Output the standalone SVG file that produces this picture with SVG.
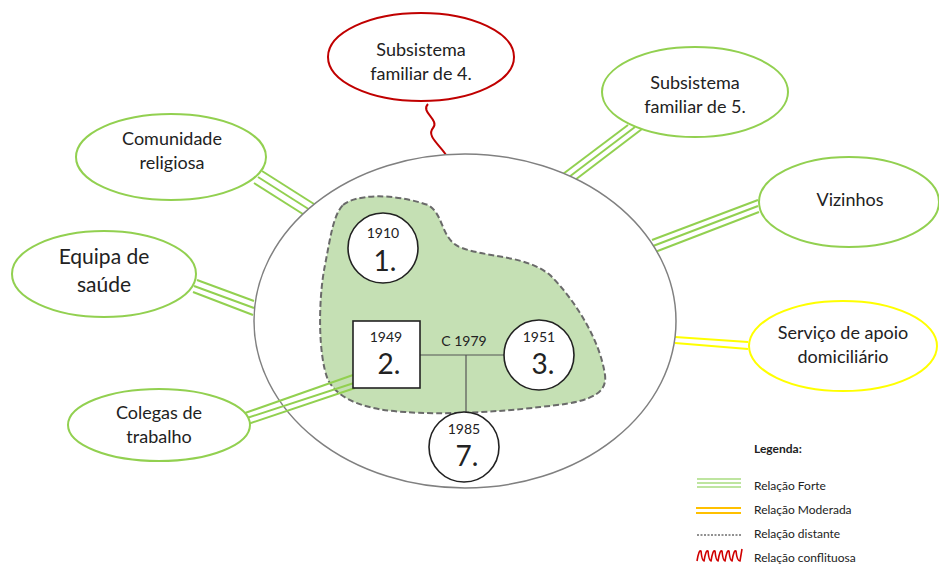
<svg xmlns="http://www.w3.org/2000/svg" width="939" height="565" viewBox="0 0 939 565">
<style>
text{font-family:Lato,"Open Sans",sans-serif;fill:#222;text-anchor:middle}
.lbl{font-size:18px}
.g{stroke:#92D050;stroke-width:2;fill:none}
.y{stroke:#FFFF00;stroke-width:2.2;fill:none}
.node{fill:#fff;stroke:#92D050;stroke-width:2}
.p{fill:#fff;stroke:#222;stroke-width:1.6}
.yr{font-size:14px}
.num{font-size:28px}
.leg{font-size:12px;text-anchor:start}
</style>
<rect width="939" height="565" fill="#fff"/>
<g id="connectors">
<path d="M428,104 C420,112 440,120 433,128 C426,136 440,145 446,155" stroke="#C00000" stroke-width="2" fill="none"/>
<line class="g" x1="628" y1="125" x2="563" y2="174"/>
<line class="g" x1="635" y1="127" x2="569" y2="177"/>
<line class="g" x1="642" y1="129" x2="575" y2="180"/>
<line class="g" x1="758" y1="200" x2="652" y2="240"/>
<line class="g" x1="758" y1="206" x2="653" y2="246"/>
<line class="g" x1="759" y1="212" x2="655" y2="252"/>
<line class="y" x1="675" y1="337" x2="748" y2="342"/>
<line class="y" x1="675" y1="343" x2="748" y2="349"/>
<line class="g" x1="262" y1="171" x2="314" y2="204"/>
<line class="g" x1="258" y1="177" x2="310" y2="210"/>
<line class="g" x1="254" y1="183" x2="306" y2="216"/>
<line class="g" x1="197" y1="280" x2="254" y2="301"/>
<line class="g" x1="194" y1="286" x2="254" y2="308"/>
<line class="g" x1="193" y1="292" x2="253" y2="315"/>
</g>
<g id="household">
<ellipse cx="465" cy="321" rx="211" ry="167" fill="#fff" stroke="#808080" stroke-width="1.5"/>
<path d="M343,205 C355,195 390,192 428,205 C445,215 440,240 462,248 C490,258 525,255 550,275 C575,300 600,340 605,375 C608,398 580,403 540,407 C500,412 440,415 405,412 C370,410 340,402 328,380 C318,355 318,300 325,265 C330,240 333,215 343,205 Z" fill="#C5E0B4" stroke="#6a6a6a" stroke-width="2" stroke-dasharray="6,3"/>
</g>
<g id="connectors-inner">
<line x1="420" y1="355" x2="504" y2="355" stroke="#555" stroke-width="1.2"/>
<line x1="466" y1="355" x2="466" y2="412" stroke="#555" stroke-width="1.2"/>
<line class="g" x1="245" y1="413" x2="353" y2="375"/>
<line class="g" x1="247" y1="418" x2="357" y2="382"/>
<line class="g" x1="248" y1="424" x2="355" y2="388"/>
</g>
<g id="p1"><circle class="p" cx="383" cy="248" r="35"/><text class="yr" x="383" y="238">1910</text><text class="num" x="385" y="271">1.</text></g>
<g id="p2"><rect class="p" x="353" y="321" width="67" height="67"/><text class="yr" x="386" y="342">1949</text><text class="num" x="389" y="374">2.</text></g>
<g id="p3"><circle class="p" cx="539" cy="355" r="35"/><text class="yr" x="539" y="342">1951</text><text class="num" x="543" y="374">3.</text></g>
<g id="p7"><circle class="p" cx="464" cy="447" r="35"/><text class="yr" x="464" y="434">1985</text><text class="num" x="467" y="466">7.</text></g>
<text class="yr" x="464" y="346">C 1979</text>
<g id="n4"><ellipse cx="421" cy="57" rx="93" ry="44" fill="#fff" stroke="#C00000" stroke-width="2"/><text class="lbl" x="421" y="56">Subsistema</text><text class="lbl" x="421" y="80">familiar de 4.</text></g>
<g id="n5"><ellipse class="node" cx="695" cy="92" rx="93" ry="45"/><text class="lbl" x="695" y="89">Subsistema</text><text class="lbl" x="695" y="113">familiar de 5.</text></g>
<g id="viz"><ellipse class="node" cx="849" cy="202" rx="90" ry="45"/><text class="lbl" x="850" y="206">Vizinhos</text></g>
<g id="sad"><ellipse cx="843" cy="346" rx="94" ry="45" fill="#fff" stroke="#FFFF00" stroke-width="2"/><text class="lbl" x="843" y="339">Serviço de apoio</text><text class="lbl" x="843" y="363">domiciliário</text></g>
<g id="com"><ellipse class="node" cx="171" cy="157" rx="95" ry="43"/><text class="lbl" x="172" y="145">Comunidade</text><text class="lbl" x="172" y="169">religiosa</text></g>
<g id="eq"><ellipse class="node" cx="104" cy="274" rx="92" ry="43"/><text x="104" y="264" font-size="21">Equipa de</text><text x="104" y="292" font-size="21">saúde</text></g>
<g id="col"><ellipse class="node" cx="159" cy="425" rx="91" ry="36"/><text class="lbl" x="159" y="419">Colegas de</text><text class="lbl" x="159" y="443">trabalho</text></g>
<g id="legend">
<text class="leg" x="754" y="453" font-weight="bold">Legenda:</text>
<g stroke="#A9DC80" stroke-width="1.3"><line x1="697" y1="479" x2="741" y2="479"/><line x1="697" y1="483" x2="741" y2="483"/><line x1="697" y1="487" x2="741" y2="487"/></g>
<text class="leg" x="754" y="490">Relação Forte</text>
<g stroke="#FFC000" stroke-width="1.8"><line x1="696" y1="508" x2="741" y2="508"/><line x1="696" y1="513" x2="741" y2="513"/></g>
<text class="leg" x="754" y="514">Relação Moderada</text>
<line x1="697" y1="535" x2="741" y2="535" stroke="#222" stroke-width="1" stroke-dasharray="2,1.5"/>
<text class="leg" x="754" y="538">Relação distante</text>
<path d="M697,561 Q699,549 701,551 Q702,561 704,561 Q706,549 708,551 Q709,561 711,561 Q713,549 715,551 Q716,561 718,561 Q720,549 722,551 Q723,561 725,561 Q727,549 729,551 Q730,561 732,561 Q734,549 736,551 Q737,561 740,561 L742,549" stroke="#D00000" stroke-width="1.6" fill="none"/>
<text class="leg" x="754" y="562">Relação conflituosa</text>
</g>
</svg>
